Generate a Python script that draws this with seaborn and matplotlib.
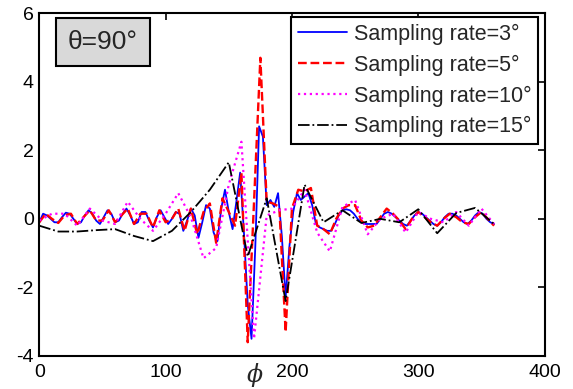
import numpy as np
import pandas as pd
import matplotlib
matplotlib.use("Agg")
import matplotlib.pyplot as plt
import seaborn as sns

# ---- data ----
phi_3 = list(range(0, 361, 3))
val_3 = [-0.10, 0.15, 0.10, 0.00, -0.10, -0.10, 0.05, 0.18, 0.15, 0.00,
         -0.15, -0.10, 0.10, 0.25, 0.15, -0.05, -0.15, 0.05, 0.25, 0.15,
         -0.10, -0.05, 0.15, 0.30, 0.10, -0.15, -0.10, 0.20, 0.20, -0.05,
         -0.25, 0.05, 0.25, 0.05, -0.15, 0.00, 0.20, 0.15, -0.35, -0.05,
         0.30, 0.10, -0.55, -0.10, 0.40, 0.30, -0.40, -0.65, 0.30, 0.85,
         0.20, -0.30, 0.50, 1.35, -0.40, -2.50, -3.50, -0.80, 2.70, 2.40,
         0.40, 0.55, 0.35, 0.75, -0.50, -2.30, -0.80, 0.20, 0.75, 0.55,
         0.65, 0.75, 0.40, -0.15, -0.25, -0.30, -0.35, -0.35, -0.15, 0.10,
         0.25, 0.28, 0.25, 0.15, 0.00, -0.10, -0.15, -0.15, -0.15, -0.15,
         0.00, 0.15, 0.20, 0.15, 0.05, -0.05, -0.15, -0.20, -0.05, 0.10,
         0.20, 0.15, 0.05, -0.05, -0.15, -0.20, -0.10, 0.05, 0.15, 0.15,
         0.10, 0.00, -0.10, -0.15, -0.05, 0.10, 0.20, 0.15, 0.00, -0.10,
         -0.15]

phi_5 = list(range(0, 361, 5))
val_5 = [-0.10, 0.15, 0.00, -0.12, 0.10, 0.15, -0.15, 0.05, 0.25, -0.05,
         -0.05, 0.25, -0.10, 0.10, 0.30, -0.15, 0.15, 0.15, -0.25, 0.25,
         -0.10, 0.00, 0.30, -0.35, 0.30, -0.45, 0.20, 0.45, -0.70, 0.60,
         0.20, -0.20, 1.35, -3.60, 0.50, 4.70, 0.50, 0.45, 0.35, -3.30,
         0.30, 0.85, 0.80, 0.90, -0.20, -0.30, -0.45, 0.00, 0.30, 0.40,
         0.40, -0.05, -0.25, -0.20, 0.05, 0.30, 0.15, -0.05, -0.30, 0.00,
         0.20, 0.05, -0.10, -0.20, 0.00, 0.15, 0.05, -0.10, -0.15, 0.05,
         0.20, 0.00, -0.20]

phi_10 = list(range(0, 361, 10))
val_10 = [-0.05, 0.15, 0.15, -0.20, 0.30, -0.05, -0.15, 0.50, 0.00, -0.35,
          0.15, 0.75, 0.05, -1.15, -0.85, 1.00, 2.25, -3.50, 0.10, 0.25,
          0.30, 0.85, -0.40, -0.95, 0.35, 0.55, -0.45, 0.00, 0.15, -0.40,
          0.20, 0.00, -0.10, 0.20, -0.20, 0.30, -0.15]

phi_15 = list(range(0, 361, 15))
val_15 = [-0.20, -0.37, -0.37, -0.33, -0.30, -0.50, -0.65, -0.35, 0.20,
          0.85, 1.65, -1.10, 0.60, -2.40, 1.00, -0.10, 0.25, -0.12, 0.00,
          -0.10, 0.28, -0.42, 0.17, 0.32, -0.15]

labels = ["Sampling rate=3°", "Sampling rate=5°",
          "Sampling rate=10°", "Sampling rate=15°"]
x_ticks = [0, 100, 200, 300, 400]
y_ticks = [-4, -2, 0, 2, 4, 6]

# ---- style ----
sns.set_style("white")
plt.rcParams["font.family"] = ["Liberation Sans", "DejaVu Sans"]
plt.rcParams["axes.unicode_minus"] = False

fig = plt.figure(figsize=(5.73, 3.89), dpi=100)
ax = fig.add_axes([0.0686, 0.085, 0.8818, 0.881])

styles = [
    dict(color="#0000ff", linestyle="-", linewidth=1.3),
    dict(color="#ff0000", linestyle="--", linewidth=1.7),
    dict(color="#ff00ff", linestyle=":", linewidth=1.6),
    dict(color="#000000", linestyle="-.", linewidth=1.3),
]
series = [(phi_3, val_3), (phi_5, val_5), (phi_10, val_10), (phi_15, val_15)]
for (px, pv), lab, st in zip(series, labels, styles):
    df = pd.DataFrame({"phi": px, "val": pv})
    sns.lineplot(data=df, x="phi", y="val", ax=ax, label=lab, sort=False,
                 estimator=None, **st)

ax.set_xlim(0, 400)
ax.set_ylim(-4, 6)
ax.set_xticks(x_ticks)
ax.set_yticks(y_ticks)
ax.tick_params(direction="in", length=5, width=1.2, top=True, right=True,
               labelsize=14, colors="black")
ax.tick_params(axis="x", pad=6)
ax.tick_params(axis="y", pad=4)
for s in ax.spines.values():
    s.set_linewidth(1.5)
    s.set_color("black")

ax.set_ylabel("")
ax.set_xlabel("ϕ", fontsize=17, style="italic", family="DejaVu Serif")
ax.xaxis.set_label_coords(0.427, -0.02)

leg = ax.legend(loc="upper right", bbox_to_anchor=(0.987, 0.988),
                borderaxespad=0, fancybox=False, fontsize=15.5,
                handlelength=2.3, handletextpad=0.3, labelspacing=0.45,
                borderpad=0.3, framealpha=1)
leg.get_frame().set_edgecolor("black")
leg.get_frame().set_linewidth(1.5)

ax.text(0.126, 0.915, "θ=90°", transform=ax.transAxes, ha="center",
        va="center", fontsize=19,
        bbox=dict(boxstyle="square,pad=0.45", facecolor="#d9d9d9",
                  edgecolor="black", linewidth=1.5))

fig.savefig("out.png", dpi=100, facecolor="white")
